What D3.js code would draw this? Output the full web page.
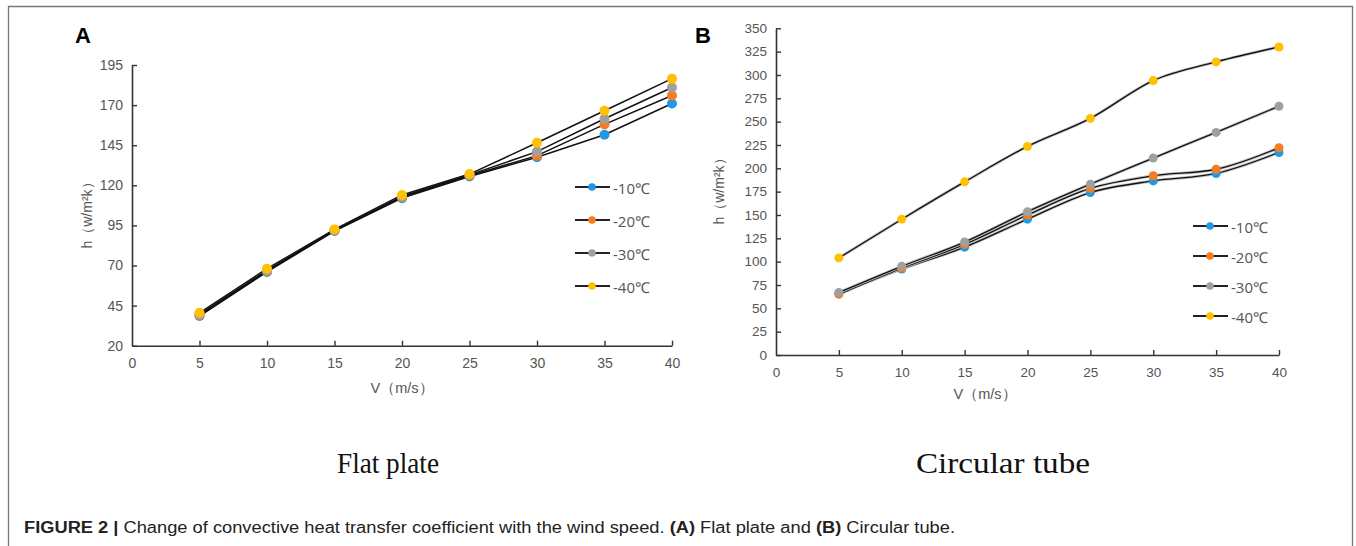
<!DOCTYPE html>
<html><head><meta charset="utf-8">
<script src="https://cdn.jsdelivr.net/npm/d3@7"></script>
<style>body{margin:0;background:#fff}svg{display:block}</style>
</head><body>
<svg id="c" width="1356" height="546"></svg>
<script>
const speeds = [5, 10, 15, 20, 25, 30, 35, 40];
const seriesNames = ["-10℃", "-20℃", "-30℃", "-40℃"];
const seriesColors = ["#1f9ae0", "#f57c20", "#a0a0a0", "#ffc000"];
// Panel A: flat plate
const flatM10 = [38.5, 66, 91.5, 112, 125.5, 137.5, 151.5, 171];
const flatM20 = [39, 66.5, 92, 112.5, 126, 138.5, 158, 176];
const flatM30 = [39.5, 67, 92, 113, 126.5, 141, 161.5, 181];
const flatM40 = [40.5, 68, 92.5, 114, 127, 146.5, 166.5, 186.5];
// Panel B: circular tube
const tubeM10 = [66, 92, 115.5, 145.5, 174, 186.5, 194.5, 217];
const tubeM20 = [65, 93, 118.5, 150, 178.5, 192, 199, 222];
const tubeM30 = [67, 95, 121, 153.5, 183, 211, 238.5, 266.5];
const tubeM40 = [104, 145.5, 185.5, 223.5, 253.5, 294, 314, 330];
const ticksA = [20, 45, 70, 95, 120, 145, 170, 195];
const ticksB = [0, 25, 50, 75, 100, 125, 150, 175, 200, 225, 250, 275, 300, 325, 350];
const xTicks = [0, 5, 10, 15, 20, 25, 30, 35, 40];

const svg = d3.select("#c");
// border
svg.append("path").attr("d","M8.5,546 V6.5 H1352.5 V546").attr("fill","none").attr("stroke","#777").attr("stroke-width",1.3);

function panel(cfg){
  const g = svg.append("g");
  const x = d3.scaleLinear().domain([0,40]).range([cfg.x0, cfg.x1]);
  const y = d3.scaleLinear().domain(cfg.ydom).range([cfg.y0, cfg.y1]);
  const ya = g.append("g").attr("transform",`translate(${cfg.x0},0)`)
    .call(d3.axisLeft(y).tickValues(cfg.yticks).tickSize(-5).tickSizeOuter(0).tickPadding(9));
  const xa = g.append("g").attr("transform",`translate(0,${cfg.y0})`)
    .call(d3.axisBottom(x).tickValues(xTicks).tickSize(-5).tickSizeOuter(0).tickPadding(12));
  [ya, xa].forEach(a=>{
    a.select(".domain").attr("stroke","#333").attr("stroke-width",1.6);
    a.selectAll(".tick line").attr("stroke","#333").attr("stroke-width",1.4);
    a.selectAll(".tick text").attr("fill","#555").attr("font-family","Liberation Sans, Arial, sans-serif").attr("font-size",cfg.fs);
  });
  xa.selectAll(".tick").filter(d=>d===0).select("line").remove();
  ya.selectAll(".tick line").attr("x2",5);
  xa.selectAll(".tick line").attr("y2",-5);
  g.append("text").attr("x",cfg.xlabX).attr("y",cfg.xlabY).attr("text-anchor","middle")
    .attr("fill","#555").attr("font-family","Liberation Sans, Arial, sans-serif").attr("font-size",14.5).text("V（m/s）");
  g.append("text").attr("transform",`translate(${cfg.ylabX},${cfg.ylabY}) rotate(-90)`).attr("text-anchor","middle")
    .attr("fill","#555").attr("font-family","Liberation Sans, Arial, sans-serif").attr("font-size",14).text("h（w/m²k）");
  const line = d3.line().x((d,i)=>x(speeds[i])).y(d=>y(d)).curve(cfg.curve);
  cfg.series.forEach((s)=>{
    if(cfg.halo) g.append("path").attr("d",line(s)).attr("fill","none").attr("stroke","#c4c4c4").attr("stroke-width",3);
    g.append("path").attr("d",line(s)).attr("fill","none").attr("stroke","#111").attr("stroke-width",cfg.lw);
  });
  cfg.series.forEach((s,k)=>{
    g.selectAll(null).data(s).enter().append("circle")
      .attr("cx",(d,i)=>x(speeds[i])).attr("cy",d=>y(d)).attr("r",cfg.r).attr("fill",seriesColors[k]);
  });
  seriesNames.forEach((n,k)=>{
    const ly = cfg.legY + k*cfg.legDy;
    g.append("line").attr("x1",cfg.legX).attr("x2",cfg.legX+35).attr("y1",ly).attr("y2",ly).attr("stroke","#222").attr("stroke-width",1.8);
    g.append("circle").attr("cx",cfg.legX+17).attr("cy",ly).attr("r",3.8).attr("fill",seriesColors[k]);
    g.append("text").attr("x",cfg.legX+38).attr("y",ly+7).attr("fill","#555")
      .attr("font-family","Open Sans, Liberation Sans, sans-serif").attr("font-size",15).text(n);
  });
  g.append("text").attr("x",cfg.letX).attr("y",43).attr("font-family","Liberation Sans, Arial, sans-serif")
    .attr("font-weight","bold").attr("font-size",22).attr("fill","#000").text(cfg.letter);
  g.append("text").attr("x",cfg.subX).attr("y",473).attr("text-anchor","middle")
    .attr("font-family","Liberation Serif, Times New Roman, serif").attr("font-size",30).attr("fill","#111")
    .attr("textLength",cfg.subW).attr("lengthAdjust","spacingAndGlyphs").text(cfg.sub);
}

panel({x0:132,x1:672,y0:345.7,y1:65,ydom:[20,195],yticks:ticksA,fs:14,
  series:[flatM10,flatM20,flatM30,flatM40],curve:d3.curveLinear,lw:1.5,r:5,halo:false,
  xlabX:402,xlabY:393,ylabX:92,ylabY:212,legX:575,legY:187,legDy:33,letX:75,letter:"A",subX:388,sub:"Flat plate",subW:102});
panel({x0:776,x1:1279,y0:355,y1:28.3,ydom:[0,350],yticks:ticksB,fs:13.5,
  series:[tubeM10,tubeM20,tubeM30,tubeM40],curve:d3.curveMonotoneX,lw:1.3,r:4.5,halo:true,
  xlabX:985,xlabY:399,ylabX:724,ylabY:188,legX:1193,legY:226,legDy:30,letX:695,letter:"B",subX:1003,sub:"Circular tube",subW:174});

// caption
const cap = svg.append("text").attr("x",24).attr("y",533)
  .attr("font-family","Liberation Sans, Arial, sans-serif").attr("font-size",16).attr("fill","#222")
  .attr("textLength",931).attr("lengthAdjust","spacingAndGlyphs");
cap.append("tspan").attr("font-weight","bold").text("FIGURE 2 | ");
cap.append("tspan").text("Change of convective heat transfer coefficient with the wind speed. ");
cap.append("tspan").attr("font-weight","bold").text("(A)");
cap.append("tspan").text(" Flat plate and ");
cap.append("tspan").attr("font-weight","bold").text("(B)");
cap.append("tspan").text(" Circular tube.");
</script>
</body></html>
